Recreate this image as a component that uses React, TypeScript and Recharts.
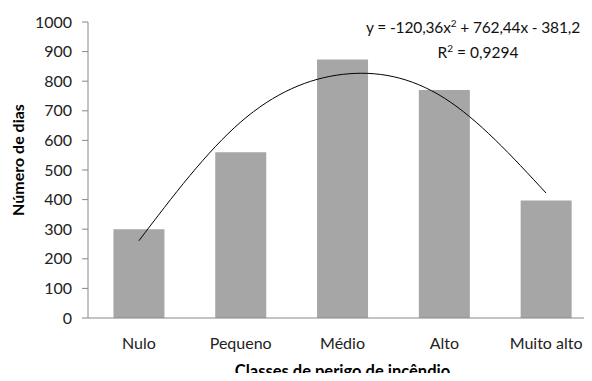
import { Bar, ComposedChart, Label, Line, XAxis, YAxis } from "recharts";

const classes = ["Nulo", "Pequeno", "Médio", "Alto", "Muito alto"];
const dias = [300, 560, 873, 770, 397];
// polynomial trend (order 2) evaluated at each class
const tendencia = [261, 662, 823, 743, 422];
const yTicks = [0, 100, 200, 300, 400, 500, 600, 700, 800, 900, 1000];

const data = classes.map((classe, i) => ({
  classe,
  dias: dias[i],
  tendencia: tendencia[i],
}));

const font = "Lato, 'Open Sans', sans-serif";

export default function App() {
  return (
    <div
      style={{
        position: "relative",
        margin: -8,
        width: 592,
        height: 381,
        overflow: "hidden",
        background: "#fff",
        fontFamily: font,
      }}
    >
      <ComposedChart
        width={600}
        height={381}
        data={data}
        margin={{ top: 22, right: 3, bottom: 0, left: 0 }}
        barCategoryGap="25%"
      >
        <XAxis
          dataKey="classe"
          height={63}
          axisLine={{ stroke: "#888" }}
          tickLine={false}
          tick={{ fill: "#222", fontSize: 16, fontFamily: font }}
          tickMargin={14}
          interval={0}
        >
          <Label
            value="Classes de perigo de incêndio"
            position="insideBottom"
            offset={4}
            style={{ fill: "#000", fontSize: 16.5, fontWeight: 700, fontFamily: font }}
          />
        </XAxis>
        <YAxis
          width={88}
          domain={[0, 1000]}
          ticks={yTicks}
          interval={0}
          axisLine={{ stroke: "#888" }}
          tickLine={{ stroke: "#888" }}
          tickSize={6}
          tickMargin={10}
          tick={{ fill: "#222", fontSize: 16, fontFamily: font }}
        />
        <Bar dataKey="dias" fill="#a6a6a6" isAnimationActive={false} />
        <Line
          dataKey="tendencia"
          type="natural"
          stroke="#000"
          strokeWidth={1}
          dot={false}
          isAnimationActive={false}
        />
      </ComposedChart>
      {/* y-axis title */}
      <div
        style={{
          position: "absolute",
          left: 18,
          top: 160,
          transform: "translate(-50%, -50%) rotate(-90deg)",
          fontSize: 16,
          fontWeight: 700,
          color: "#000",
          whiteSpace: "nowrap",
          lineHeight: "20px",
        }}
      >
        Número de dias
      </div>
      {/* trendline equation, right-aligned near the edge */}
      <div
        style={{
          position: "absolute",
          left: 0,
          width: 580,
          top: 16,
          textAlign: "right",
          fontSize: 15.5,
          letterSpacing: -0.15,
          color: "#111",
          whiteSpace: "nowrap",
          lineHeight: "22px",
        }}
      >
        y = -120,36x<sup style={{ fontSize: 10, lineHeight: 0 }}>2</sup> + 762,44x - 381,2
      </div>
      <div
        style={{
          position: "absolute",
          left: 0,
          width: 956,
          top: 41,
          textAlign: "center",
          fontSize: 15.5,
          color: "#111",
          whiteSpace: "nowrap",
          lineHeight: "22px",
        }}
      >
        R<sup style={{ fontSize: 10, lineHeight: 0 }}>2</sup> = 0,9294
      </div>
    </div>
  );
}
